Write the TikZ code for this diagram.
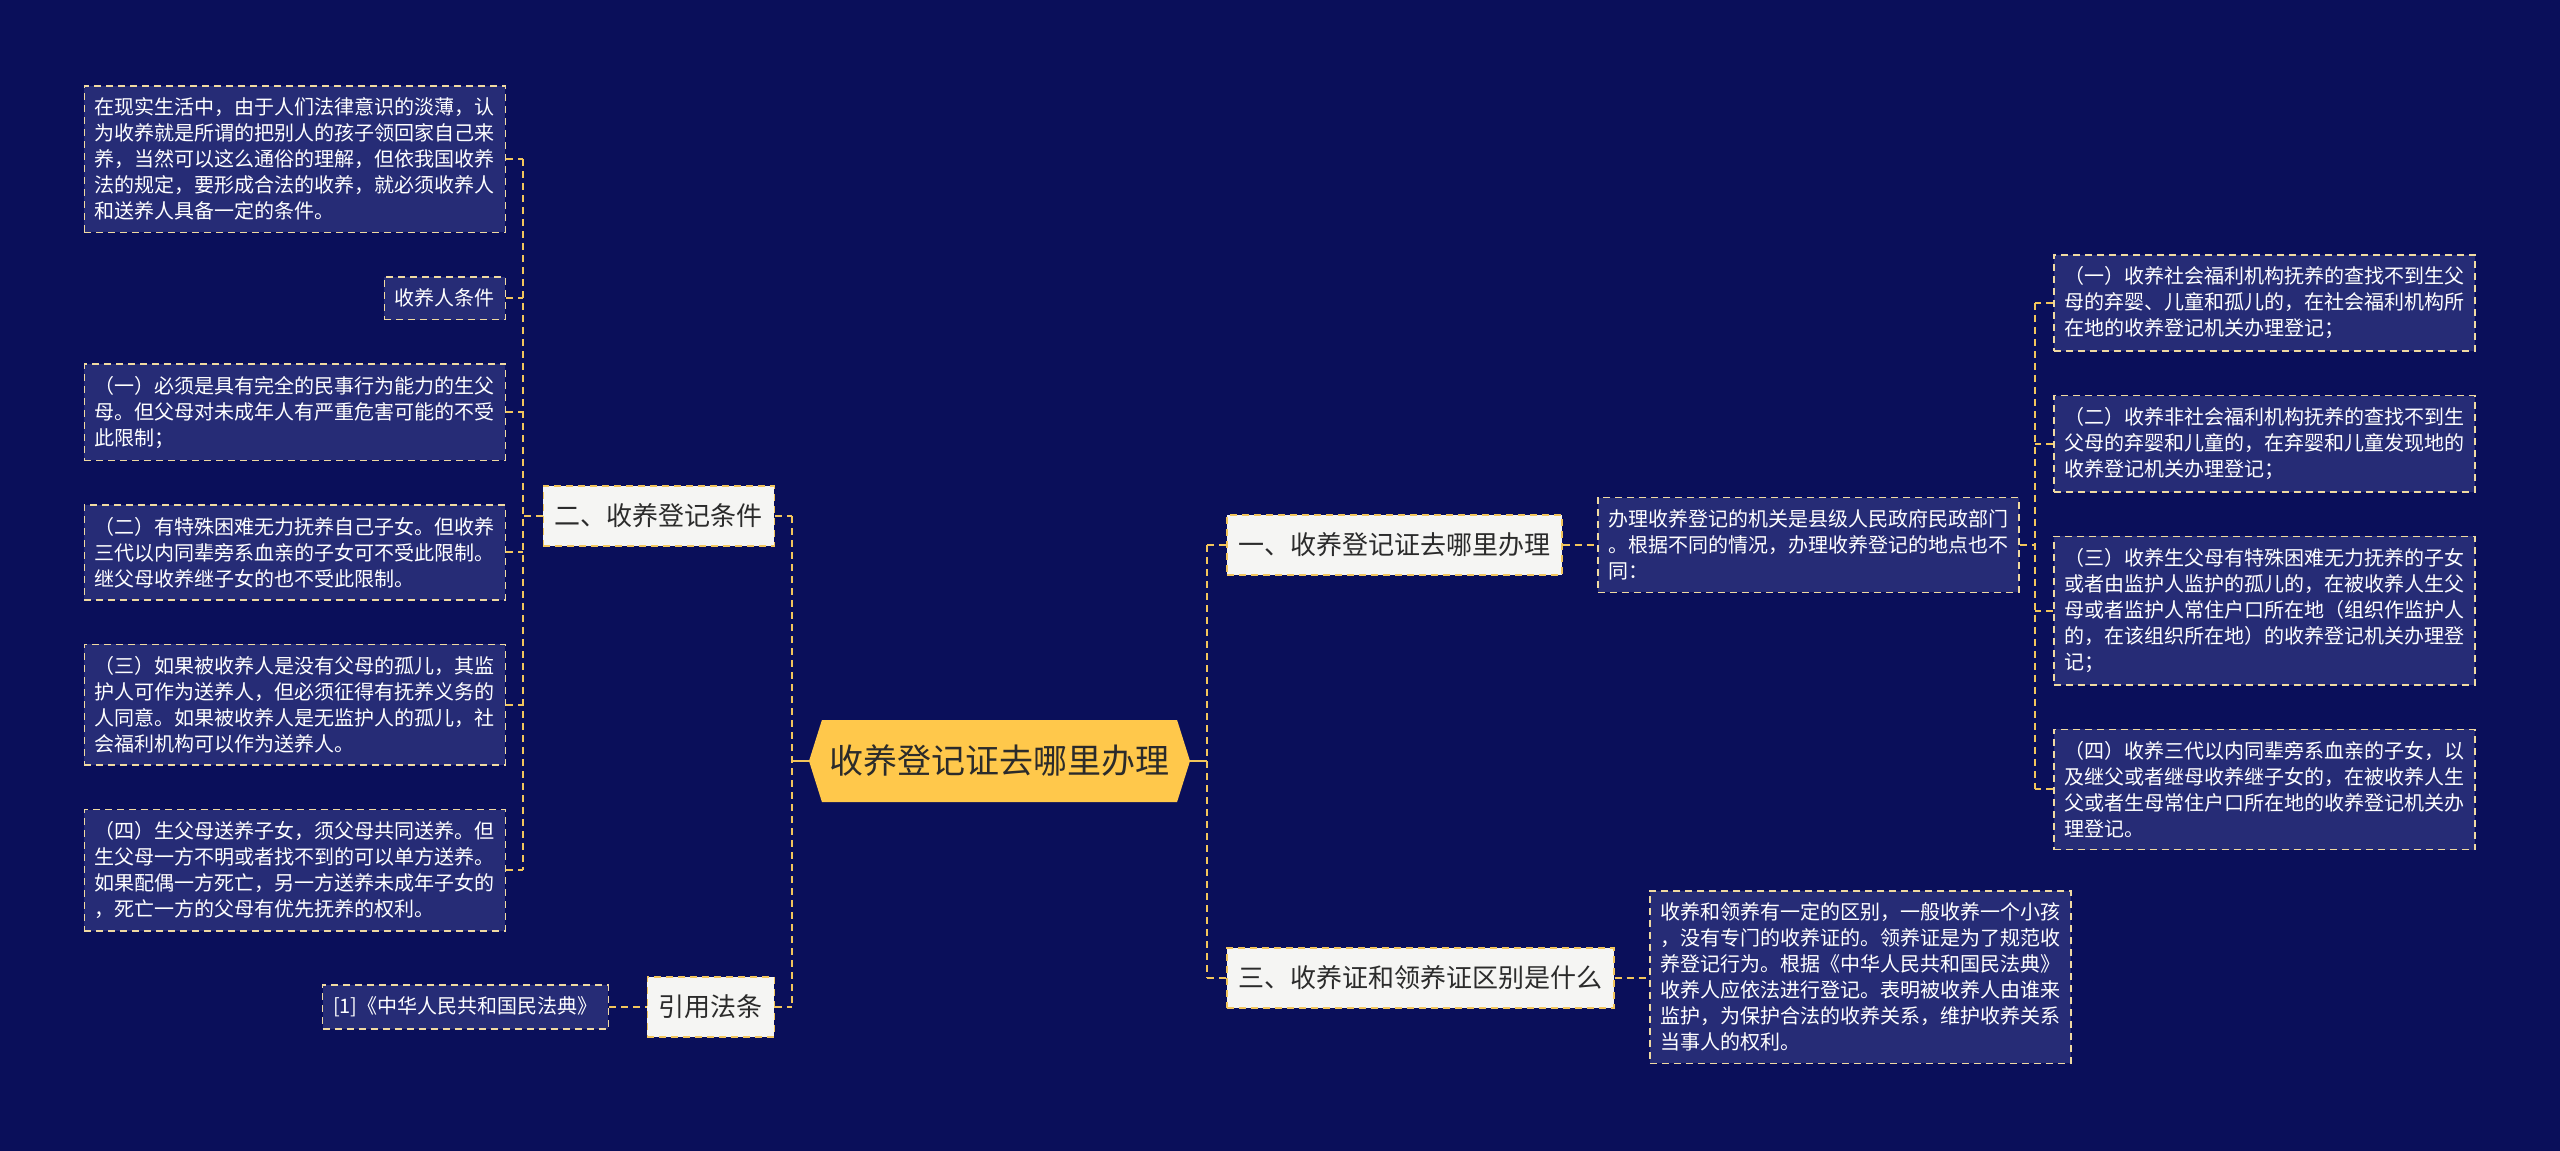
\documentclass[tikz,border=0pt]{standalone}
\usepackage{fontspec}
\setmainfont{Noto Sans CJK SC}
\usetikzlibrary{shapes.symbols, positioning}

\definecolor{bgnavy}{HTML}{0A0F5A}
\definecolor{leafblue}{HTML}{262C76}
\definecolor{leafedge}{HTML}{F0DAA2}
\definecolor{linkgold}{HTML}{F2C55C}
\definecolor{rootgold}{HTML}{FFC84B}
\definecolor{topicwhite}{HTML}{F5F5F3}
\definecolor{inkdark}{HTML}{2B2B2B}

\begin{document}
\begin{tikzpicture}[
    x=1pt, y=-1pt,
    node distance = 43pt,
    % Styles
    base/.style = {rectangle, draw=leafedge, line width=1.5pt, dash pattern=on 7pt off 5pt, inner xsep=10.5pt, inner ysep=12pt},
    leaf/.style = {base, fill=leafblue, text=white, font=\fontsize{20}{26}\selectfont, align=left},
    para/.style = {leaf, text width=400pt},
    topic/.style = {base, draw=linkgold, fill=topicwhite, text=inkdark, font=\fontsize{26}{30}\selectfont, inner xsep=11.5pt, inner ysep=0pt, minimum height=60pt},
    root/.style = {signal, signal to=east and west, signal pointer angle=145, fill=rootgold, text=inkdark, font=\fontsize{34}{40}\selectfont, minimum width=381pt, minimum height=82pt},
    link/.style = {draw=linkgold, line width=2pt, dash pattern=on 7pt off 5pt},
    solid_link/.style = {draw=linkgold, line width=2pt}
]

\fill[bgnavy] (0,0) rectangle (2560,1151);
\useasboundingbox (0,0) rectangle (2560,1151);

% --- 0. ROOT ---
\node[root] (root) at (999.5,761) {收养登记证去哪里办理};

% --- 1. LEFT: CONDITIONS ---
\node[topic, anchor=east] (cond) at (775,516) {二、收养登记条件};
\node[topic, anchor=east] (cite) at (775,1007) {引用法条};

\node[para, anchor=north east] (cond_intro) at (506,85) {在现实生活中，由于人们法律意识的淡薄，认\\为收养就是所谓的把别人的孩子领回家自己来\\养，当然可以这么通俗的理解，但依我国收养\\法的规定，要形成合法的收养，就必须收养人\\和送养人具备一定的条件。};
\node[leaf, below=of cond_intro.south east, anchor=north east] (cond_head) {收养人条件};
\node[para, below=of cond_head.south east, anchor=north east] (cond_one) {（一）必须是具有完全的民事行为能力的生父\\母。但父母对未成年人有严重危害可能的不受\\此限制；};
\node[para, below=of cond_one.south east, anchor=north east] (cond_two) {（二）有特殊困难无力抚养自己子女。但收养\\三代以内同辈旁系血亲的子女可不受此限制。\\继父母收养继子女的也不受此限制。};
\node[para, below=of cond_two.south east, anchor=north east] (cond_three) {（三）如果被收养人是没有父母的孤儿，其监\\护人可作为送养人，但必须征得有抚养义务的\\人同意。如果被收养人是无监护人的孤儿，社\\会福利机构可以作为送养人。};
\node[para, below=of cond_three.south east, anchor=north east] (cond_four) {（四）生父母送养子女，须父母共同送养。但\\生父母一方不明或者找不到的可以单方送养。\\如果配偶一方死亡，另一方送养未成年子女的\\，死亡一方的父母有优先抚养的权利。};

\node[leaf, anchor=east] (cite_law) at (609,1007) {[1]《中华人民共和国民法典》};

\coordinate (cond_bus) at (523,0);
\draw[link] (cond_intro.east -| cond_bus) -- (cond_four.east -| cond_bus);
\foreach \n in {cond_intro, cond_head, cond_one, cond_two, cond_three, cond_four}
    \draw[link] (\n.east) -- (\n.east -| cond_bus);
\draw[link] (cond.west) -- (cond.west -| cond_bus);
\draw[link] (cite_law) -- (cite);

\coordinate (left_bus) at (792,0);
\draw[link] (cond.east -| left_bus) -- (cite.east -| left_bus);
\draw[link] (cond.east) -- (cond.east -| left_bus);
\draw[link] (cite.east) -- (cite.east -| left_bus);
\draw[solid_link] (root.west) -- (root.west -| left_bus);

% --- 2. RIGHT: WHERE TO REGISTER ---
\node[topic, anchor=west] (where) at (1226,545) {一、收养登记证去哪里办理};
\node[topic, anchor=west] (diff) at (1226,978) {三、收养证和领养证区别是什么};

\coordinate (right_bus) at (1207,0);
\draw[link] (where.west -| right_bus) -- (diff.west -| right_bus);
\draw[link] (where.west) -- (where.west -| right_bus);
\draw[link] (diff.west) -- (diff.west -| right_bus);
\draw[solid_link] (root.east) -- (root.east -| right_bus);

\node[para, anchor=west] (where_dept) at (1597,545) {办理收养登记的机关是县级人民政府民政部门\\。根据不同的情况，办理收养登记的地点也不\\同：};
\draw[link] (where) -- (where_dept);

\node[para, anchor=north west] (where_one) at (2053,254) {（一）收养社会福利机构抚养的查找不到生父\\母的弃婴、儿童和孤儿的，在社会福利机构所\\在地的收养登记机关办理登记；};
\node[para, below=of where_one.south west, anchor=north west] (where_two) {（二）收养非社会福利机构抚养的查找不到生\\父母的弃婴和儿童的，在弃婴和儿童发现地的\\收养登记机关办理登记；};
\node[para, below=of where_two.south west, anchor=north west] (where_three) {（三）收养生父母有特殊困难无力抚养的子女\\或者由监护人监护的孤儿的，在被收养人生父\\母或者监护人常住户口所在地（组织作监护人\\的，在该组织所在地）的收养登记机关办理登\\记；};
\node[para, below=of where_three.south west, anchor=north west] (where_four) {（四）收养三代以内同辈旁系血亲的子女，以\\及继父或者继母收养继子女的，在被收养人生\\父或者生母常住户口所在地的收养登记机关办\\理登记。};

\coordinate (where_bus) at (2035,0);
\draw[link] (where_one.west -| where_bus) -- (where_four.west -| where_bus);
\draw[link] (where_dept.east) -- (where_dept.east -| where_bus);
\foreach \n in {where_one, where_two, where_three, where_four}
    \draw[link] (\n.west) -- (\n.west -| where_bus);

% --- 3. RIGHT: DIFFERENCE ---
\node[para, anchor=north west] (diff_text) at (1649,890) {收养和领养有一定的区别，一般收养一个小孩\\，没有专门的收养证的。领养证是为了规范收\\养登记行为。根据《中华人民共和国民法典》\\收养人应依法进行登记。表明被收养人由谁来\\监护，为保护合法的收养关系，维护收养关系\\当事人的权利。};
\draw[link] (diff) -- (diff_text.west |- diff);

\end{tikzpicture}
\end{document}
